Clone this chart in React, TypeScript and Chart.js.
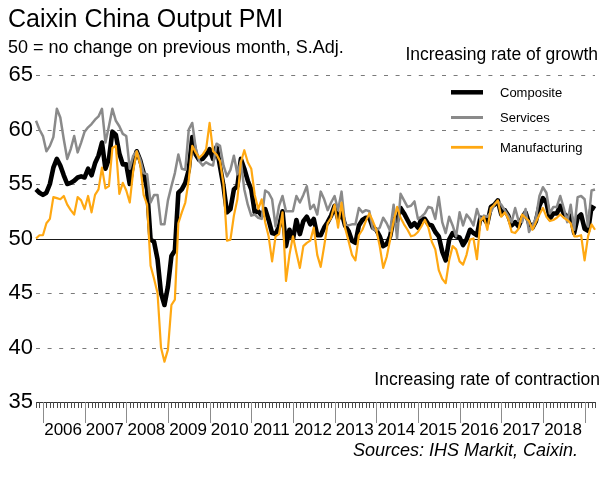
import React, { useEffect, useRef } from 'react';
import { Chart, registerables } from 'chart.js';

Chart.register(...registerables);

const FONT = "'Liberation Sans', Arial, Helvetica, sans-serif";

// Monthly categories: Nov 2005 .. Apr 2019
const startYear = 2005;
const startMonth = 11;
const monthCount = 162;
const monthLabels: string[] = [];
for (let k = 0; k < monthCount; k++) {
  const m0 = startMonth - 1 + k;
  const yr = startYear + Math.floor(m0 / 12);
  const mo = (m0 % 12) + 1;
  monthLabels.push(`${yr}-${mo < 10 ? '0' + mo : mo}`);
}

const yearLabels = ['2006', '2007', '2008', '2009', '2010', '2011', '2012', '2013', '2014', '2015', '2016', '2017', '2018'];
const yTicks = [35, 40, 45, 50, 55, 60, 65];
const dashedGrid = [40, 45, 55, 60, 65];
const noChangeLevel = 50;

const composite = [
  54.5, 54.2, // 2005
  54.0, 54.2, 55.0, 56.5, 57.3, 56.7, 55.8, 55.0, 55.1, 55.3, 55.6, 55.7, // 2006
  55.6, 56.4, 55.8, 56.9, 57.6, 58.8, 56.4, 57.3, 59.8, 59.5, 57.8, 56.8, // 2007
  56.8, 55.0, 57.0, 58.0, 57.2, 56.0, 54.5, 49.9, 49.7, 48.1, 45.0, 43.9, // 2008
  45.6, 48.4, 48.9, 54.2, 54.5, 55.1, 56.3, 59.3, 57.7, 57.2, 57.3, 57.7, // 2009
  58.2, 57.3, 58.4, 56.6, 54.8, 52.4, 52.7, 54.5, 54.8, 57.3, 56.4, 55.3, // 2010
  54.5, 52.4, 52.5, 52.1, 52.7, 51.7, 50.5, 50.4, 51.1, 52.5, 49.3, 50.8, // 2011
  49.9, 51.7, 50.4, 51.6, 52.0, 51.3, 51.8, 50.3, 50.3, 51.0, 51.5, 52.1, // 2012
  53.0, 51.8, 52.4, 51.2, 50.7, 49.8, 49.6, 51.2, 51.7, 51.9, 51.9, 51.0, // 2013
  50.8, 50.2, 49.3, 49.5, 50.2, 51.8, 51.6, 52.8, 52.3, 51.7, 51.1, 51.4, // 2014
  51.0, 51.8, 51.8, 51.3, 51.2, 50.6, 50.2, 48.8, 48.0, 49.9, 50.5, 50.2, // 2015
  50.1, 49.4, 49.9, 50.8, 50.5, 50.3, 51.9, 51.8, 51.4, 52.9, 53.1, 53.5, // 2016
  52.2, 52.6, 52.1, 51.2, 51.5, 51.1, 51.9, 52.4, 51.4, 51.0, 51.6, 53.0, // 2017
  53.7, 53.3, 51.8, 52.3, 52.3, 53.0, 52.3, 52.0, 52.1, 50.5, 51.9, 52.2, // 2018
  50.9, 50.7, 52.9, 52.7, // 2019
];

const services = [
  60.8, 60.0, // 2005
  59.4, 58.0, 58.5, 59.3, 61.9, 61.1, 59.1, 57.3, 58.2, 59.4, 57.9, 58.8, // 2006
  59.8, 60.2, 60.5, 60.9, 61.2, 61.9, 58.8, 60.3, 61.9, 60.8, 60.3, 59.6, // 2007
  59.4, 56.4, 57.6, 58.0, 57.3, 56.0, 55.9, 53.3, 54.0, 54.0, 51.3, 51.3, // 2008
  53.5, 54.8, 56.0, 57.7, 56.4, 56.3, 60.0, 60.6, 58.3, 57.1, 56.7, 57.0, // 2009
  56.8, 56.7, 58.7, 58.5, 56.7, 55.7, 56.3, 57.6, 55.9, 57.1, 54.5, 53.1, // 2010
  52.1, 52.2, 51.9, 51.8, 54.4, 54.2, 53.6, 51.1, 53.0, 53.9, 52.5, 52.5, // 2011
  52.5, 53.9, 53.3, 54.0, 54.8, 52.7, 53.1, 52.2, 54.3, 53.6, 52.6, 53.3, // 2012
  53.9, 52.6, 54.3, 51.3, 51.2, 51.3, 51.3, 52.8, 52.4, 52.6, 52.5, 50.9, // 2013
  50.7, 51.0, 51.9, 51.4, 50.7, 53.1, 50.0, 54.1, 53.5, 52.9, 53.0, 53.4, // 2014
  51.8, 52.0, 52.3, 52.9, 52.8, 51.8, 53.8, 51.5, 50.5, 52.0, 51.2, 50.2, // 2015
  52.4, 51.2, 52.2, 51.8, 51.2, 52.7, 51.7, 52.1, 52.0, 52.4, 53.1, 53.4, // 2016
  53.1, 52.6, 52.1, 51.5, 52.8, 51.6, 51.5, 52.7, 50.6, 51.2, 51.9, 53.9, // 2017
  54.7, 54.2, 52.3, 52.9, 52.9, 53.9, 52.8, 51.5, 53.1, 50.8, 53.8, 53.9, // 2018
  53.6, 51.1, 54.4, 54.5, // 2019
];

const manufacturing = [
  50.0, 50.3, // 2005
  50.3, 51.4, 51.8, 53.8, 53.7, 53.6, 53.9, 53.1, 52.6, 52.2, 53.8, 53.5, // 2006
  52.7, 53.9, 52.4, 54.0, 54.5, 56.5, 54.6, 54.8, 58.3, 58.5, 54.1, 55.1, // 2007
  54.4, 53.3, 56.2, 58.0, 56.8, 54.0, 53.1, 47.5, 46.3, 45.0, 40.0, 38.7, // 2008
  39.8, 43.9, 44.4, 51.4, 52.4, 53.3, 55.4, 58.5, 57.9, 57.4, 57.7, 58.2, // 2009
  60.6, 58.0, 57.7, 57.1, 55.0, 49.8, 49.9, 52.1, 53.6, 57.0, 58.1, 57.0, // 2010
  56.4, 54.0, 52.7, 53.6, 51.5, 50.2, 47.9, 50.2, 50.4, 52.4, 46.1, 48.5, // 2011
  50.2, 48.7, 47.3, 49.3, 49.6, 49.8, 51.0, 48.5, 47.4, 49.3, 51.4, 51.9, // 2012
  53.1, 51.0, 53.3, 51.0, 49.8, 48.5, 48.0, 50.3, 50.8, 51.6, 52.3, 51.6, // 2013
  50.8, 49.3, 47.3, 48.3, 49.9, 51.6, 52.9, 51.9, 51.3, 50.8, 50.2, 50.3, // 2014
  50.6, 51.1, 51.7, 51.0, 49.7, 49.0, 47.1, 46.3, 45.9, 48.0, 49.3, 49.0, // 2015
  47.9, 47.6, 48.5, 49.9, 50.0, 48.1, 51.6, 52.0, 50.8, 52.8, 53.1, 53.5, // 2016
  52.0, 52.4, 51.8, 50.6, 50.5, 50.9, 52.2, 51.9, 51.6, 50.8, 51.5, 52.2, // 2017
  52.8, 52.0, 51.6, 51.7, 51.9, 52.2, 51.9, 51.7, 51.4, 50.2, 50.2, 50.3, // 2018
  48.0, 50.2, 51.3, 50.8, // 2019
];

const COL_COMP = '#000000';
const COL_SERV = '#8a8a8a';
const COL_MANU = '#ffa812';

const legendItems = [
  { label: 'Composite', color: COL_COMP, width: 4.5, lineY: 92.3, textY: 97 },
  { label: 'Services', color: COL_SERV, width: 3, lineY: 117.5, textY: 122.3 },
  { label: 'Manufacturing', color: COL_MANU, width: 2.8, lineY: 147.3, textY: 151.8 },
];

const decor = {
  id: 'decor',
  beforeDraw(chart: any) {
    const { ctx, width, height } = chart;
    ctx.save();
    ctx.fillStyle = '#ffffff';
    ctx.fillRect(0, 0, width, height);
    ctx.restore();
  },
  beforeDatasetsDraw(chart: any) {
    const { ctx, chartArea: a, scales } = chart;
    const y = scales.y;
    ctx.save();
    ctx.lineWidth = 1;
    for (const v of dashedGrid) {
      const py = Math.round(y.getPixelForValue(v)) + 0.5;
      ctx.beginPath();
      ctx.setLineDash([4, 7.6]);
      ctx.strokeStyle = '#7a7a7a';
      ctx.moveTo(a.left, py);
      ctx.lineTo(a.right, py);
      ctx.stroke();
    }
    const p50 = Math.round(y.getPixelForValue(noChangeLevel)) + 0.5;
    ctx.setLineDash([]);
    ctx.strokeStyle = '#1a1a1a';
    ctx.beginPath();
    ctx.moveTo(a.left, p50);
    ctx.lineTo(a.right, p50);
    ctx.stroke();
    ctx.restore();
  },
  afterDraw(chart: any) {
    const { ctx, chartArea: a, scales } = chart;
    const x = scales.x;
    ctx.save();
    // month tick marks
    ctx.lineWidth = 1;
    const base = a.bottom;
    for (let i = 0; i < monthLabels.length; i++) {
      const px = Math.round(x.getPixelForValue(i)) + 0.5;
      const isJan = monthLabels[i].endsWith('-01');
      ctx.beginPath();
      ctx.strokeStyle = isJan ? '#8c8c8c' : '#4a4a4a';
      ctx.moveTo(px, base);
      ctx.lineTo(px, base + (isJan ? 21 : 6));
      ctx.stroke();
    }
    // year labels
    ctx.fillStyle = '#000';
    ctx.font = `17px ${FONT}`;
    ctx.textAlign = 'center';
    ctx.textBaseline = 'alphabetic';
    for (const yl of yearLabels) {
      const idx = monthLabels.indexOf(`${yl}-01`);
      if (idx < 0) continue;
      const px = x.getPixelForValue(idx + 5.8);
      ctx.fillText(yl, px, 435);
    }
    // titles
    ctx.textAlign = 'left';
    ctx.font = `25px ${FONT}`;
    ctx.fillText('Caixin China Output PMI', 8, 27);
    ctx.font = `18px ${FONT}`;
    ctx.fillText('50 = no change on previous month, S.Adj.', 8, 53);
    ctx.textAlign = 'right';
    ctx.font = `17.5px ${FONT}`;
    ctx.fillText('Increasing rate of growth', 598, 60);
    ctx.fillText('Increasing rate of contraction', 600, 384.5);
    ctx.font = `italic 18px ${FONT}`;
    ctx.fillText('Sources: IHS Markit, Caixin.', 578, 456);
    // legend
    ctx.textAlign = 'left';
    ctx.font = `13px ${FONT}`;
    for (const it of legendItems) {
      ctx.beginPath();
      ctx.strokeStyle = it.color;
      ctx.lineWidth = it.width;
      ctx.moveTo(451, it.lineY);
      ctx.lineTo(483, it.lineY);
      ctx.stroke();
      ctx.fillStyle = '#000';
      ctx.fillText(it.label, 500, it.textY);
    }
    ctx.restore();
  },
};

export default function App() {
  const ref = useRef<HTMLCanvasElement>(null);
  useEffect(() => {
    if (!ref.current) return;
    const chart = new Chart(ref.current, {
      type: 'line',
      data: {
        labels: monthLabels,
        datasets: [
          { label: 'Manufacturing', data: manufacturing, borderColor: COL_MANU, borderWidth: 2.2, pointRadius: 0, tension: 0, fill: false, borderJoinStyle: 'round' },
          { label: 'Services', data: services, borderColor: COL_SERV, borderWidth: 2.5, pointRadius: 0, tension: 0, fill: false, borderJoinStyle: 'round' },
          { label: 'Composite', data: composite, borderColor: COL_COMP, borderWidth: 4.6, pointRadius: 0, tension: 0, fill: false, borderJoinStyle: 'round' },
        ],
      },
      options: {
        responsive: false,
        animation: false,
        events: [],
        layout: { padding: { top: 75, right: 14, left: 0, bottom: 0 } },
        plugins: { legend: { display: false }, title: { display: false }, tooltip: { enabled: false } },
        scales: {
          x: {
            type: 'category',
            offset: false,
            ticks: { display: false },
            grid: { display: false, drawTicks: false },
            border: { display: true, color: '#333', width: 1 },
            afterFit(s: any) { s.height = 91; },
          },
          y: {
            min: 35,
            max: 65,
            afterBuildTicks(s: any) { s.ticks = yTicks.map((v) => ({ value: v })); },
            ticks: { font: { size: 22, family: FONT }, color: '#000', padding: 3 },
            grid: { display: false, drawTicks: false },
            border: { display: false },
            afterFit(s: any) { s.width = 36; },
          },
        },
      },
      plugins: [decor],
    } as any);
    return () => chart.destroy();
  }, []);
  return (
    <div style={{ position: 'absolute', left: 0, top: 0, width: 609, height: 493, background: '#fff' }}>
      <canvas ref={ref} width={609} height={493} style={{ display: 'block' }} />
    </div>
  );
}
